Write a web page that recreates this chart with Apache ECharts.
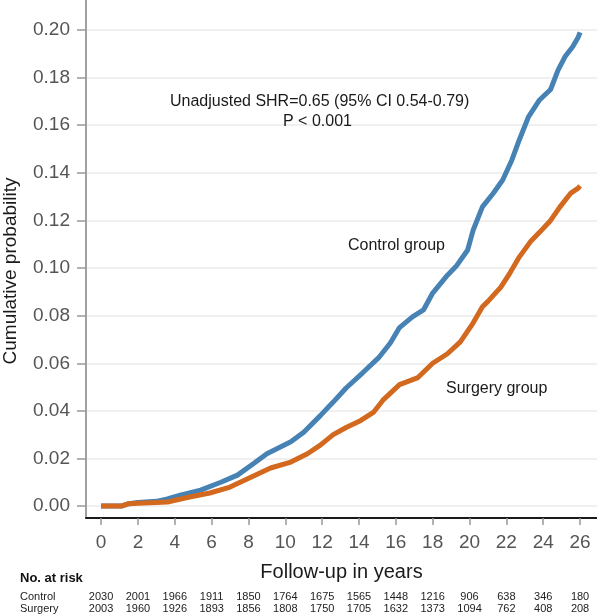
<!DOCTYPE html>
<html><head><meta charset="utf-8">
<script src="https://cdn.jsdelivr.net/npm/echarts@6/dist/echarts.min.js"></script>
<style>html,body{margin:0;padding:0;background:#fff}#c{width:597px;height:616px}</style>
</head><body><div id="c"></div>
<script>
const controlYears = [0, 1.1, 1.5, 2, 3, 3.6, 4.3, 5.4, 6.5, 7.4, 8.3, 9.0, 10.3, 11.0, 11.9, 12.6, 13.3, 14.2, 15.1, 15.7, 16.2, 16.9, 17.5, 18.0, 18.8, 19.3, 19.9, 20.2, 20.7, 21.3, 21.8, 22.3, 22.7, 23.2, 23.8, 24.4, 24.8, 25.2, 25.6, 25.9, 26.0];
const controlProb  = [0, 0, 0.001, 0.0015, 0.002, 0.003, 0.0046, 0.0067, 0.010, 0.013, 0.018, 0.022, 0.027, 0.031, 0.038, 0.0437, 0.0496, 0.056, 0.0626, 0.0685, 0.075, 0.0795, 0.0824, 0.0895, 0.097, 0.101, 0.1076, 0.116, 0.1257, 0.1315, 0.137, 0.1454, 0.1538, 0.1635, 0.1706, 0.175, 0.183, 0.189, 0.193, 0.197, 0.199];
const surgeryYears = [0, 1.1, 1.5, 2, 3, 3.6, 4.8, 5.9, 7.0, 8.1, 9.2, 10.3, 11.2, 11.9, 12.6, 13.3, 14.1, 14.8, 15.3, 16.2, 17.2, 18.0, 18.8, 19.5, 20.2, 20.7, 21.0, 21.7, 22.2, 22.7, 23.3, 23.8, 24.4, 24.9, 25.5, 25.9, 26.0];
const surgeryProb  = [0, 0, 0.001, 0.0012, 0.0015, 0.0017, 0.0038, 0.0055, 0.008, 0.012, 0.016, 0.0185, 0.022, 0.0256, 0.030, 0.033, 0.036, 0.0395, 0.0445, 0.051, 0.054, 0.060, 0.064, 0.069, 0.077, 0.0837, 0.086, 0.092, 0.098, 0.1046, 0.111, 0.115, 0.120, 0.1256, 0.1315, 0.1336, 0.1345];
const xTicks = [0, 2, 4, 6, 8, 10, 12, 14, 16, 18, 20, 22, 24, 26];
const yTicks = [0, 0.02, 0.04, 0.06, 0.08, 0.10, 0.12, 0.14, 0.16, 0.18, 0.20];
const riskControl = [2030, 2001, 1966, 1911, 1850, 1764, 1675, 1565, 1448, 1216, 906, 638, 346, 180];
const riskSurgery = [2003, 1960, 1926, 1893, 1856, 1808, 1750, 1705, 1632, 1373, 1094, 762, 408, 208];
const riskGroups = ['Control', 'Surgery'];

const FONT = '"Liberation Sans", Arial, sans-serif';
const X_MIN = -0.82, X_MAX = 26.92, Y_MIN = -0.005, Y_MAX = 0.2126;

function riskAxis(arr, margin) {
  return {
    type: 'value', min: X_MIN, max: X_MAX, position: 'bottom',
    axisLine: {show: false}, axisTick: {show: false}, splitLine: {show: false},
    axisLabel: {
      customValues: xTicks, margin: margin, fontSize: 11, color: '#222', fontFamily: FONT,
      formatter: v => { const i = xTicks.indexOf(v); return i >= 0 ? String(arr[i]) : ''; }
    }
  };
}

const chart = echarts.init(document.getElementById('c'), null, {renderer: 'canvas'});
chart.setOption({
  animation: false,
  backgroundColor: '#fff',
  grid: {left: 86, right: 0, top: 0, bottom: 98, containLabel: false, outerBoundsMode: 'none'},
  xAxis: [{
    type: 'value', min: X_MIN, max: X_MAX,
    name: 'Follow-up in years', nameLocation: 'middle', nameGap: 44,
    nameTextStyle: {fontSize: 20, color: '#1a1a1a', fontFamily: FONT},
    axisLine: {show: true, onZero: false, lineStyle: {color: '#1a1a1a', width: 2}},
    axisTick: {show: true, customValues: xTicks, length: 7, lineStyle: {color: '#999', width: 1.5}},
    axisLabel: {customValues: xTicks, fontSize: 19, color: '#555', margin: 15, fontFamily: FONT},
    splitLine: {show: false}
  }, riskAxis(riskControl, 73), riskAxis(riskSurgery, 85)],
  yAxis: {
    type: 'value', min: Y_MIN, max: Y_MAX,
    name: 'Cumulative probability', nameLocation: 'middle', nameGap: 66,
    nameTextStyle: {fontSize: 19, color: '#1a1a1a', fontFamily: FONT, padding: [0, 24, 0, 0]},
    axisLine: {show: true, onZero: false, lineStyle: {color: '#a0a0a0', width: 2}},
    axisTick: {show: true, customValues: yTicks, length: 9, lineStyle: {color: '#999', width: 1.5}},
    axisLabel: {customValues: yTicks, fontSize: 19, color: '#555', margin: 16, fontFamily: FONT,
      formatter: v => v.toFixed(2)},
    splitLine: {show: true, lineStyle: {color: '#ebebeb', width: 1.5}}
  },
  series: [{
    name: 'Control group', type: 'line', showSymbol: false,
    data: controlYears.map((x, i) => [x, controlProb[i]]),
    lineStyle: {color: '#4682b4', width: 5}, itemStyle: {color: '#4682b4'}, z: 3
  }, {
    name: 'Surgery group', type: 'line', showSymbol: false,
    data: surgeryYears.map((x, i) => [x, surgeryProb[i]]),
    lineStyle: {color: '#d2691e', width: 5}, itemStyle: {color: '#d2691e'}, z: 4
  }],
  graphic: [
    {type: 'text', left: 170, top: 94, z: 10, style: {text: 'Unadjusted SHR=0.65 (95% CI 0.54-0.79)', fontSize: 16, fill: '#1a1a1a', fontFamily: FONT}},
    {type: 'text', left: 283, top: 114, z: 10, style: {text: 'P < 0.001', fontSize: 16, fill: '#1a1a1a', fontFamily: FONT}},
    {type: 'text', left: 348, top: 238, z: 10, style: {text: 'Control group', fontSize: 16, fill: '#1a1a1a', fontFamily: FONT}},
    {type: 'text', left: 446, top: 381, z: 10, style: {text: 'Surgery group', fontSize: 16, fill: '#1a1a1a', fontFamily: FONT}},
    {type: 'text', left: 20, top: 572, style: {text: 'No. at risk', fontSize: 13, fontWeight: 'bold', fill: '#111', fontFamily: FONT}},
    {type: 'text', left: 20, top: 591, style: {text: riskGroups[0], fontSize: 11, fill: '#222', fontFamily: FONT}},
    {type: 'text', left: 20, top: 603, style: {text: riskGroups[1], fontSize: 11, fill: '#222', fontFamily: FONT}}
  ]
});
</script></body></html>
